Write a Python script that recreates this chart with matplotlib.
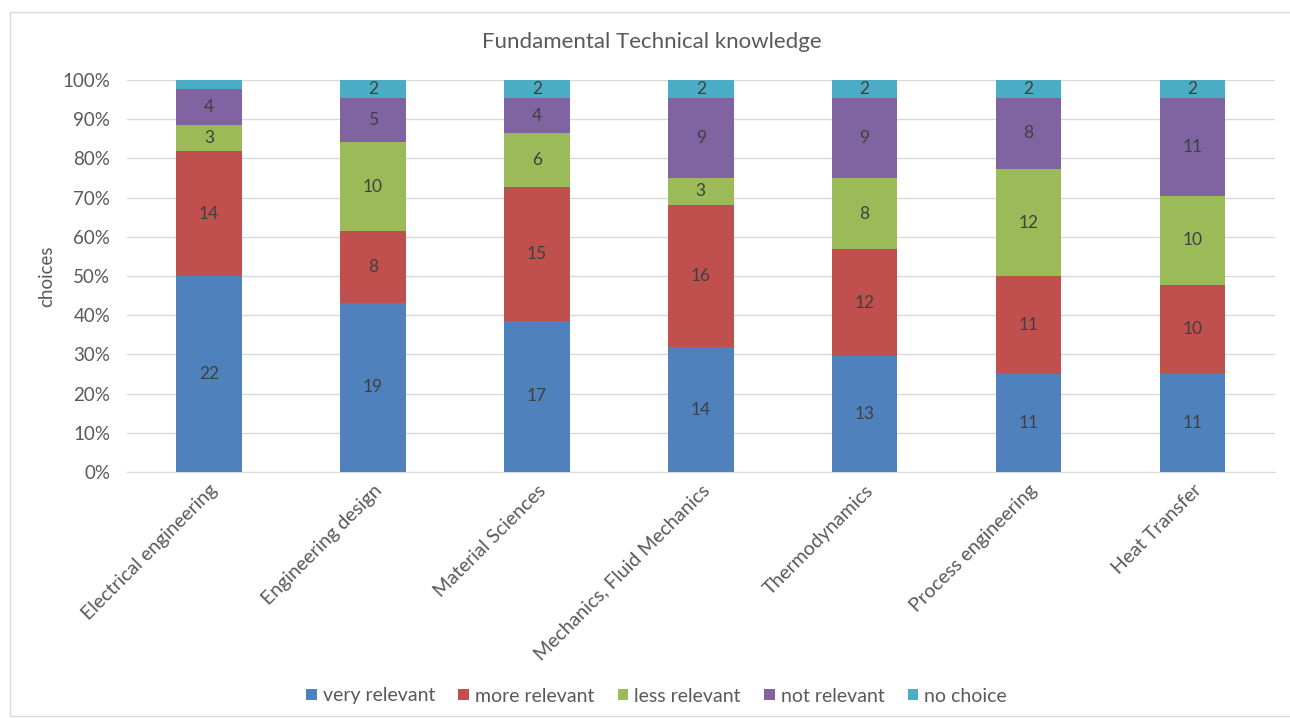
import matplotlib.pyplot as plt
import matplotlib.patches as mpatches
import numpy as np

# answer counts per subject (44 respondents each)
subjects = ['Electrical engineering', 'Engineering design', 'Material Sciences',
            'Mechanics, Fluid Mechanics', 'Thermodynamics', 'Process engineering',
            'Heat Transfer']
very_relevant = [22, 19, 17, 14, 13, 11, 11]
more_relevant = [14, 8, 15, 16, 12, 11, 10]
less_relevant = [3, 10, 6, 3, 8, 12, 10]
not_relevant = [4, 5, 4, 9, 9, 8, 11]
no_choice = [1, 2, 2, 2, 2, 2, 2]

series = [
    ('very relevant', very_relevant, '#4f81bd'),
    ('more relevant', more_relevant, '#c0504d'),
    ('less relevant', less_relevant, '#9bbb59'),
    ('not relevant', not_relevant, '#8064a2'),
    ('no choice', no_choice, '#4bacc6'),
]

txt = '#595959'
plt.rcParams['font.family'] = ['Lato', 'DejaVu Sans']

fig = plt.figure(figsize=(12.9, 7.18), dpi=100)
ax = fig.add_axes([0.0984, 0.3426, 0.8896, 0.546])

# light frame around the whole chart
fig.patches.append(mpatches.Rectangle((10 / 1290, 0.003), 1.0, 1 - 12 / 718 - 0.003,
                                      transform=fig.transFigure, fill=False,
                                      edgecolor='#d9d9d9', linewidth=1))

x = np.arange(len(subjects))
totals = np.sum([s[1] for s in series], axis=0)
bottom = np.zeros(len(subjects))
for name, vals, col in series:
    share = np.array(vals) / totals * 100
    ax.bar(x, share, width=0.4, bottom=bottom, color=col, label=name, zorder=3)
    for xi, b, h, v in zip(x, bottom, share, vals):
        if v > 1:
            ax.text(xi, b + h / 2, str(v), ha='center', va='center',
                    fontsize=12.5, color='#404040', zorder=4)
    bottom += share

ax.set_xlim(-0.5, len(subjects) - 0.5)
ax.set_ylim(0, 100)
ax.set_yticks(np.arange(0, 101, 10))
ax.set_yticklabels([f'{v}%' for v in range(0, 101, 10)])
ax.yaxis.grid(True, color='#d9d9d9', linewidth=1, zorder=0)
ax.set_xticks(x)
ax.set_xticklabels(subjects, rotation=45, ha='right', rotation_mode='anchor')
ax.tick_params(axis='y', length=0, labelsize=13.5, colors=txt, pad=12)
ax.tick_params(axis='x', length=0, labelsize=14, colors=txt, pad=7)
for sp in ['top', 'right', 'left']:
    ax.spines[sp].set_visible(False)
ax.spines['bottom'].set_color('#d9d9d9')
ax.set_ylabel('choices', fontsize=13.5, color=txt, labelpad=5)
fig.suptitle('Fundamental Technical knowledge', x=0.505, y=1 - 42 / 718, va='center',
             fontsize=16, color=txt)

fig.legend(loc='center', ncol=5, bbox_to_anchor=(0.509, 1 - 696 / 718), frameon=False,
           fontsize=14, labelcolor=txt, handlelength=0.55, handleheight=0.55,
           handletextpad=0.3, columnspacing=1.2)

fig.savefig('out.png', dpi=100)
